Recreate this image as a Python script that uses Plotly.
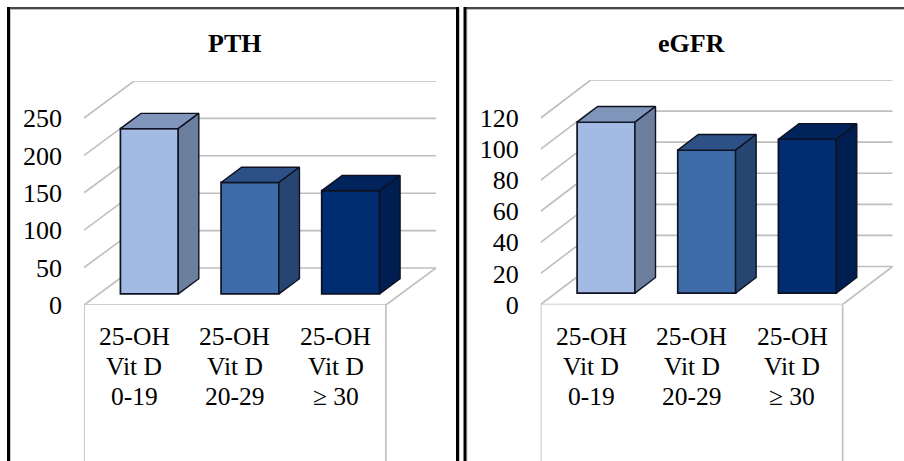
import plotly.graph_objects as go

W, H = 904, 461

# ---- data ----
categories = [["25-OH", "Vit D", "0-19"],
              ["25-OH", "Vit D", "20-29"],
              ["25-OH", "Vit D", "\u2265 30"]]
pth_values = [221, 149, 138]
egfr_values = [110, 92, 99]
pth_ticks = [0, 50, 100, 150, 200, 250]
egfr_ticks = [0, 20, 40, 60, 80, 100, 120]

front_colors = ["#A3BAE2", "#3D6CA8", "#002D72"]
top_colors = ["#7F95B9", "#2D5086", "#00235C"]
side_colors = ["#6D7F9E", "#264671", "#001E50"]
GRID = "#BEBEBE"
EDGE = "#0E1220"
FONT = "Liberation Serif, Times New Roman, serif"
FS_TICK = 26
FS_CAT = 25.5
FS_TITLE = 26

# ---- pseudo-3D geometry, in axis units ----
DX = 0.4975        # wall depth along the category axis
BAR_W = 0.575
FLOOR_FRAC = 0.30  # where the bars stand on the floor
DEPTH_FRAC = 0.41  # how deep the bars are


def px_x(p):
    return p / W


def px_y(p):
    return 1 - p / H


fig = go.Figure()
shapes = []
annotations = []


def panel(idx, values, ticks, title, left, right, bottom, top, dy_px):
    xa, ya = ("x", "y") if idx == 1 else ("x2", "y2")
    scale = (bottom - top - dy_px) / ticks[-1]
    DY = dy_px / scale
    base = FLOOR_FRAC * DY
    bx = FLOOR_FRAC * DX
    ddx = DEPTH_FRAC * DX
    ddy = DEPTH_FRAC * DY
    xs = [i for i in range(len(values))]

    # walls and floor
    def line(x0, y0, x1, y1):
        shapes.append(dict(type="line", xref=xa, yref=ya, x0=x0, y0=y0, x1=x1, y1=y1,
                           layer="below", line=dict(color=GRID, width=1.6)))

    for t in ticks:
        line(-0.5, t, -0.5 + DX, t + DY)
        line(-0.5 + DX, t + DY, 2.5 + DX, t + DY)
    line(-0.5, 0, 2.5, 0)
    line(2.5, 0, 2.5 + DX, DY)
    for xv in (-0.5, 2.5):
        shapes.append(dict(type="line", xref=xa, yref="paper", x0=xv, x1=xv, y0=0, y1=px_y(bottom),
                           layer="below", line=dict(color=GRID, width=1.6)))

    # front faces
    fig.add_trace(go.Bar(x=[x + bx for x in xs], y=values, base=base, width=BAR_W,
                         marker=dict(color=front_colors, line=dict(color=EDGE, width=1.7)),
                         xaxis=xa, yaxis=ya, showlegend=False, hoverinfo="skip"))

    # top and side faces
    for x, v, tc, sc in zip(xs, values, top_colors, side_colors):
        xl, xr = x + bx - BAR_W / 2, x + bx + BAR_W / 2
        yb, yt = base, base + v
        fig.add_trace(go.Scatter(
            x=[xl, xr, xr + ddx, xl + ddx, xl], y=[yt, yt, yt + ddy, yt + ddy, yt],
            mode="lines", fill="toself", fillcolor=tc, line=dict(color=EDGE, width=1.4),
            xaxis=xa, yaxis=ya, showlegend=False, hoverinfo="skip"))
        fig.add_trace(go.Scatter(
            x=[xr, xr + ddx, xr + ddx, xr, xr], y=[yb, yb + ddy, yt + ddy, yt, yb],
            mode="lines", fill="toself", fillcolor=sc, line=dict(color=EDGE, width=1.4),
            xaxis=xa, yaxis=ya, showlegend=False, hoverinfo="skip"))

    axis_x = dict(domain=[px_x(left), px_x(right)], range=[-0.5, 2.5 + DX], automargin=False,
                  showgrid=False, zeroline=False, showline=False, showticklabels=False,
                  tickvals=xs, ticks="", fixedrange=True)
    axis_y = dict(domain=[px_y(bottom), px_y(top)], range=[0, ticks[-1] + DY], automargin=False,
                  showgrid=False, zeroline=False, showline=False, ticks="",
                  tickvals=ticks, ticktext=[str(t) for t in ticks],
                  tickfont=dict(family=FONT, size=FS_TICK, color="black"),
                  ticklabelstandoff=21, fixedrange=True)
    axis_y["anchor"] = xa
    axis_x["anchor"] = ya
    if idx == 1:
        fig.update_layout(xaxis=axis_x, yaxis=axis_y)
    else:
        fig.update_layout(xaxis2=axis_x, yaxis2=axis_y)

    # category labels, one line at a time for the tight leading
    for x, lines in zip(xs, categories):
        for j, s in enumerate(lines):
            annotations.append(dict(text=s, x=x, xref=xa, xanchor="center",
                                    y=px_y(336.5 + 30 * j), yref="paper", yanchor="middle",
                                    showarrow=False,
                                    font=dict(family=FONT, size=FS_CAT, color="black")))
    # title
    annotations.append(dict(text="<b>%s</b>" % title, x=1, xref=xa, xanchor="center",
                            y=px_y(44), yref="paper", yanchor="middle", showarrow=False,
                            font=dict(family=FONT, size=FS_TITLE, color="black")))


panel(1, pth_values, pth_ticks, "PTH", 84, 436, 305, 81, 37)
panel(2, egfr_values, egfr_ticks, "eGFR", 540.7, 892.7, 304.5, 80, 38)


# panel frames
def frame(x0, x1, y0, y1, color, width):
    shapes.append(dict(type="line", xref="paper", yref="paper",
                       x0=px_x(x0), x1=px_x(x1), y0=px_y(y0), y1=px_y(y1),
                       layer="above", line=dict(color=color, width=width)))


for a, b in ((7, 458), (464, 904)):
    frame(a, b, 9.5, 9.5, "#BDBDBD", 1)
    frame(a, b, 8, 8, "#474747", 2)
for xv in (8.5, 457.5, 465):
    frame(xv + 2, xv + 2, 9, H, "#C8C8C8", 1)
    frame(xv, xv, 7, H, "#000000", 3)

fig.update_layout(width=W, height=H, margin=dict(l=0, r=0, t=0, b=0),
                  paper_bgcolor="white", plot_bgcolor="rgba(0,0,0,0)",
                  showlegend=False, barmode="overlay",
                  shapes=shapes, annotations=annotations)
fig.write_html("out.html", config={"displayModeBar": False},
               post_script="document.body.style.margin='0';document.documentElement.style.overflow='hidden';")
